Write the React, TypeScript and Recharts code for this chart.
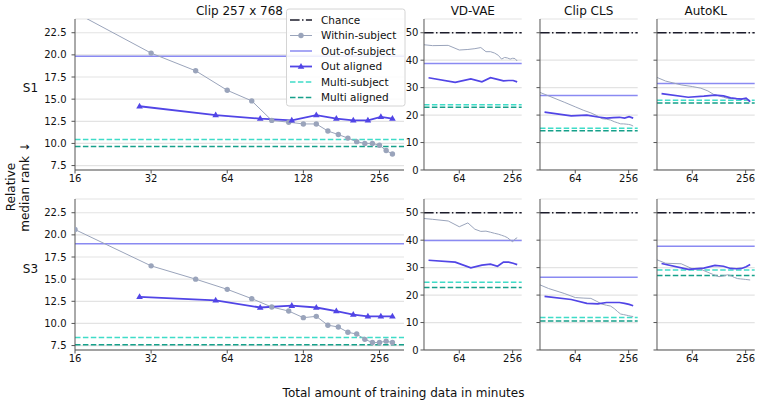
import { LineChart, Line, XAxis, YAxis, CartesianGrid, ReferenceLine } from "recharts";

// x positions (minutes of training data)
const WITHIN_X = [16, 32, 48, 64, 80, 96, 112, 128, 144, 160, 176, 192, 208, 224, 240, 256, 272, 288];
const ALIGNED_X = [28.8, 57.6, 86.4, 115.2, 144, 172.8, 201.6, 230.4, 259.2, 288];

const PANEL_TITLES = ["Clip 257 x 768", "VD-VAE", "Clip CLS", "AutoKL"];
const SUBJECTS = ["S1", "S3"];

const MAIN_X_TICKS = [16, 32, 64, 128, 256];
const MAIN_Y_TICKS = [7.5, 10, 12.5, 15, 17.5, 20, 22.5];
const SMALL_X_TICKS = [64, 256];
const SMALL_Y_TICKS = [0, 10, 20, 30, 40, 50];

// S1 within-subject
const S1_CLIP257_WITHIN = [24.8, 20.2, 18.2, 16.0, 14.8, 12.6, 12.4, 12.2, 12.2, 11.4, 11.0, 10.6, 10.2, 10.0, 10.0, 9.8, 9.2, 8.8];
const S1_VDVAE_WITHIN = [46.3, 45.3, 45.4, 43.7, 43.9, 44.2, 44.6, 43.1, 43.1, 42.6, 41.8, 40.4, 41.0, 40.8, 40.4, 40.7, 40.6, 39.7];
const S1_CLIPCLS_WITHIN = [30.9, 27.0, 24.7, 23.0, 21.7, 20.8, 19.8, 18.7, 18.5, 18.2, 17.6, 17.2, 16.8, 16.8, 16.7, 16.6, 16.4, 16.0];
const S1_AUTOKL_WITHIN = [36.5, 32.4, 31.0, 30.4, 29.8, 28.8, 27.5, 27.0, 26.5, 26.1, 26.0, 26.0, 26.0, 26.0, 26.0, 25.7, 25.3, 24.9];

// S1 out aligned
const S1_CLIP257_ALIGNED = [14.2, 13.2, 12.8, 12.6, 13.2, 12.8, 12.6, 12.6, 13.0, 12.8];
const S1_VDVAE_ALIGNED = [33.6, 31.9, 33.2, 32.1, 33.6, 33.0, 32.5, 32.6, 32.6, 32.1];
const S1_CLIPCLS_ALIGNED = [21.1, 19.7, 20.0, 19.3, 18.9, 19.1, 19.2, 18.9, 19.4, 18.9];
const S1_AUTOKL_ALIGNED = [27.8, 26.5, 26.9, 27.3, 27.0, 26.3, 26.0, 25.8, 26.2, 24.9];

// S3 within-subject
const S3_CLIP257_WITHIN = [20.6, 16.5, 15.0, 13.85, 12.8, 11.85, 11.4, 10.65, 10.8, 9.8, 9.6, 9.0, 8.8, 8.2, 7.85, 7.85, 8.0, 7.85];
const S3_VDVAE_WITHIN = [48.5, 47.6, 47.0, 44.9, 46.3, 44.0, 43.2, 43.3, 42.9, 42.5, 42.2, 41.8, 41.4, 40.9, 40.1, 39.4, 40.4, 40.9];
const S3_CLIPCLS_WITHIN = [26.5, 22.4, 20.6, 19.1, 18.9, 18.8, 17.7, 16.7, 16.3, 16.0, 15.1, 14.0, 13.1, 12.9, 12.7, 12.5, 12.3, 12.2];
const S3_AUTOKL_WITHIN = [35.5, 31.6, 31.4, 29.6, 29.4, 28.3, 27.4, 26.7, 27.0, 27.4, 27.0, 26.4, 26.0, 25.9, 25.8, 25.7, 25.6, 25.5];

// S3 out aligned
const S3_CLIP257_ALIGNED = [13.0, 12.6, 11.8, 12.0, 11.8, 11.4, 11.0, 10.8, 10.8, 10.8];
const S3_VDVAE_ALIGNED = [32.7, 32.0, 29.9, 30.9, 31.3, 30.5, 32.0, 32.0, 31.6, 31.1];
const S3_CLIPCLS_ALIGNED = [19.5, 18.4, 17.0, 16.8, 17.3, 17.3, 17.3, 17.0, 16.6, 16.1];
const S3_AUTOKL_ALIGNED = [31.5, 29.4, 29.8, 30.8, 30.5, 29.7, 29.6, 29.7, 30.3, 31.1];

// horizontal reference levels, per panel
const CHANCE = [null, 50, 50, 50];
const S1_OUT_OF_SUBJECT = [19.85, 38.8, 27.1, 31.5];
const S1_MULTI = [10.45, 23.8, 15.2, 25.4];
const S1_MULTI_ALIGNED = [9.65, 22.9, 14.3, 24.4];
const S3_OUT_OF_SUBJECT = [19.0, 39.9, 26.5, 37.8];
const S3_MULTI = [8.42, 24.7, 11.8, 29.1];
const S3_MULTI_ALIGNED = [7.6, 22.8, 10.6, 27.1];

const WITHIN = [
  [S1_CLIP257_WITHIN, S1_VDVAE_WITHIN, S1_CLIPCLS_WITHIN, S1_AUTOKL_WITHIN],
  [S3_CLIP257_WITHIN, S3_VDVAE_WITHIN, S3_CLIPCLS_WITHIN, S3_AUTOKL_WITHIN],
];
const ALIGNED = [
  [S1_CLIP257_ALIGNED, S1_VDVAE_ALIGNED, S1_CLIPCLS_ALIGNED, S1_AUTOKL_ALIGNED],
  [S3_CLIP257_ALIGNED, S3_VDVAE_ALIGNED, S3_CLIPCLS_ALIGNED, S3_AUTOKL_ALIGNED],
];
const OUT_OF_SUBJECT = [S1_OUT_OF_SUBJECT, S3_OUT_OF_SUBJECT];
const MULTI = [S1_MULTI, S3_MULTI];
const MULTI_ALIGNED = [S1_MULTI_ALIGNED, S3_MULTI_ALIGNED];

const C_CHANCE = "#1c1c2b";
const C_WITHIN = "#9aa4bb";
const C_OUT = "#8a8af2";
const C_ALIGNED = "#5145e6";
const C_MULTI = "#3fdcc8";
const C_MULTI_AL = "#16a08a";
const SPINE = "#555";
const GRID = "#e3e3e3";

const CHANCE_DASH = "9.6 2.4 1.5 2.4";
const DASH = "5.5 2.4";

const LEGEND = [
  { name: "Chance", color: C_CHANCE, dash: CHANCE_DASH, marker: "" },
  { name: "Within-subject", color: C_WITHIN, dash: "", marker: "circle" },
  { name: "Out-of-subject", color: C_OUT, dash: "", marker: "" },
  { name: "Out aligned", color: C_ALIGNED, dash: "", marker: "triangle" },
  { name: "Multi-subject", color: C_MULTI, dash: DASH, marker: "" },
  { name: "Multi aligned", color: C_MULTI_AL, dash: DASH, marker: "" },
];

const PLOT_LEFT = [75.3, 424, 540, 657];
const ROW_TOP = [18.5, 199.3];
const PLOT_H = 151;

const toPoints = (xs: number[], ys: number[]) => xs.map((x, i) => ({ x, y: ys[i] }));

const triangle = (props: any) => {
  const { cx, cy, index } = props;
  if (cx == null || cy == null) return <g key={index} />;
  return (
    <path
      key={index}
      d={`M${cx},${cy - 3.6} L${cx + 3.3},${cy + 2.2} L${cx - 3.3},${cy + 2.2} Z`}
      fill={C_ALIGNED}
    />
  );
};

function Panel({ row, col }: { row: number; col: number }) {
  const main = col === 0;
  const plotW = main ? 329 : 97.7;
  const yW = main ? 45 : col === 1 ? 24 : 8;
  const MT = 4;
  const MR = 4;
  const XH = 24;
  const left = PLOT_LEFT[col] - yW;
  const top = ROW_TOP[row] - MT;
  const width = yW + plotW + MR;
  const height = MT + PLOT_H + XH;
  const xDomain = main ? [16, 320] : [25.6, 323.8];
  const yDomain = main ? [7.0, 24.05] : [0, 55];

  return (
    <div style={{ position: "absolute", left, top, width, height }}>
      <LineChart width={width} height={height} margin={{ top: MT, right: MR, bottom: 0, left: 0 }}>
        <CartesianGrid vertical={false} stroke={GRID} strokeWidth={1.2} />
        <XAxis
          dataKey="x"
          type="number"
          scale="log"
          domain={xDomain}
          allowDataOverflow
          ticks={main ? MAIN_X_TICKS : SMALL_X_TICKS}
          height={XH}
          tickSize={3.5}
          tickMargin={1.5}
          stroke={SPINE}
          tick={{ fontSize: 10, fill: "#111" }}
          interval={0}
        />
        <YAxis
          type="number"
          domain={yDomain}
          allowDataOverflow
          ticks={main ? MAIN_Y_TICKS : SMALL_Y_TICKS}
          width={yW}
          tickSize={3.5}
          tickMargin={main ? 5 : 2}
          stroke={SPINE}
          tick={{ fontSize: 10, fill: "#111" }}
          tickFormatter={(v: number) => (main ? v.toFixed(1) : col === 1 ? String(v) : "")}
          interval={0}
        />
        {CHANCE[col] != null && (
          <ReferenceLine y={CHANCE[col] as number} stroke={C_CHANCE} strokeWidth={1.5} strokeDasharray={CHANCE_DASH} />
        )}
        <ReferenceLine y={OUT_OF_SUBJECT[row][col]} stroke={C_OUT} strokeWidth={1.5} />
        <ReferenceLine y={MULTI[row][col]} stroke={C_MULTI} strokeWidth={1.5} strokeDasharray={DASH} />
        <ReferenceLine y={MULTI_ALIGNED[row][col]} stroke={C_MULTI_AL} strokeWidth={1.5} strokeDasharray={DASH} />
        <Line
          data={toPoints(WITHIN_X, WITHIN[row][col])}
          dataKey="y"
          type="linear"
          stroke={C_WITHIN}
          strokeWidth={1}
          dot={main ? { r: 2.7, fill: C_WITHIN, stroke: C_WITHIN, strokeWidth: 0 } : false}
          activeDot={false}
          isAnimationActive={false}
        />
        <Line
          data={toPoints(ALIGNED_X, ALIGNED[row][col])}
          dataKey="y"
          type="linear"
          stroke={C_ALIGNED}
          strokeWidth={main ? 1.8 : 1.7}
          dot={main ? triangle : false}
          activeDot={false}
          isAnimationActive={false}
        />
      </LineChart>
    </div>
  );
}

function Text({ x, y, size = 12, children }: { x: number; y: number; size?: number; children: any }) {
  return (
    <div
      style={{
        position: "absolute",
        left: x,
        top: y,
        transform: "translate(-50%, -50%)",
        fontSize: size,
        lineHeight: 1,
        whiteSpace: "nowrap",
        color: "#111",
      }}
    >
      {children}
    </div>
  );
}

function Legend() {
  const rowY = [20, 35.5, 51, 66.5, 82, 97.5];
  return (
    <svg style={{ position: "absolute", left: 0, top: 0 }} width={761} height={120}>
      <rect x={286.5} y={9} width={118.5} height={97} rx={2.5} fill="rgba(255,255,255,0.85)" stroke="#d4d4d4" />
      {LEGEND.map((item, i) => (
        <g key={item.name}>
          <line
            x1={290}
            x2={312}
            y1={rowY[i]}
            y2={rowY[i]}
            stroke={item.color}
            strokeWidth={item.marker === "circle" ? 1 : item.marker === "triangle" ? 1.8 : 1.5}
            strokeDasharray={item.dash || undefined}
          />
          {item.marker === "circle" && <circle cx={301} cy={rowY[i]} r={2.7} fill={item.color} />}
          {item.marker === "triangle" && triangle({ cx: 301, cy: rowY[i], index: "lg" })}
          <text x={321} y={rowY[i] + 3.8} fontSize={10.5} fill="#111">
            {item.name}
          </text>
        </g>
      ))}
    </svg>
  );
}

export default function App() {
  const titleX = [239.5, 472.8, 588.7, 705.7];
  return (
    <div
      style={{
        position: "absolute",
        left: 0,
        top: 0,
        width: 761,
        height: 406,
        background: "#fff",
        fontFamily: "'DejaVu Sans', sans-serif",
        overflow: "hidden",
      }}
    >
      {SUBJECTS.map((s, row) =>
        PANEL_TITLES.map((t, col) => <Panel key={s + t} row={row} col={col} />)
      )}
      {PANEL_TITLES.map((t, col) => (
        <Text key={t} x={titleX[col]} y={10.5}>
          {t}
        </Text>
      ))}
      <Text x={30.5} y={88}>{SUBJECTS[0]}</Text>
      <Text x={30.5} y={268.5}>{SUBJECTS[1]}</Text>
      <div
        style={{
          position: "absolute",
          left: 17.5,
          top: 186.5,
          transform: "translate(-50%, -50%) rotate(-90deg)",
          fontSize: 12,
          lineHeight: "14px",
          textAlign: "center",
          whiteSpace: "nowrap",
          color: "#111",
        }}
      >
        Relative
        <br />
        median rank ↓
      </div>
      <Text x={403.5} y={393}>Total amount of training data in minutes</Text>
      <Legend />
    </div>
  );
}
